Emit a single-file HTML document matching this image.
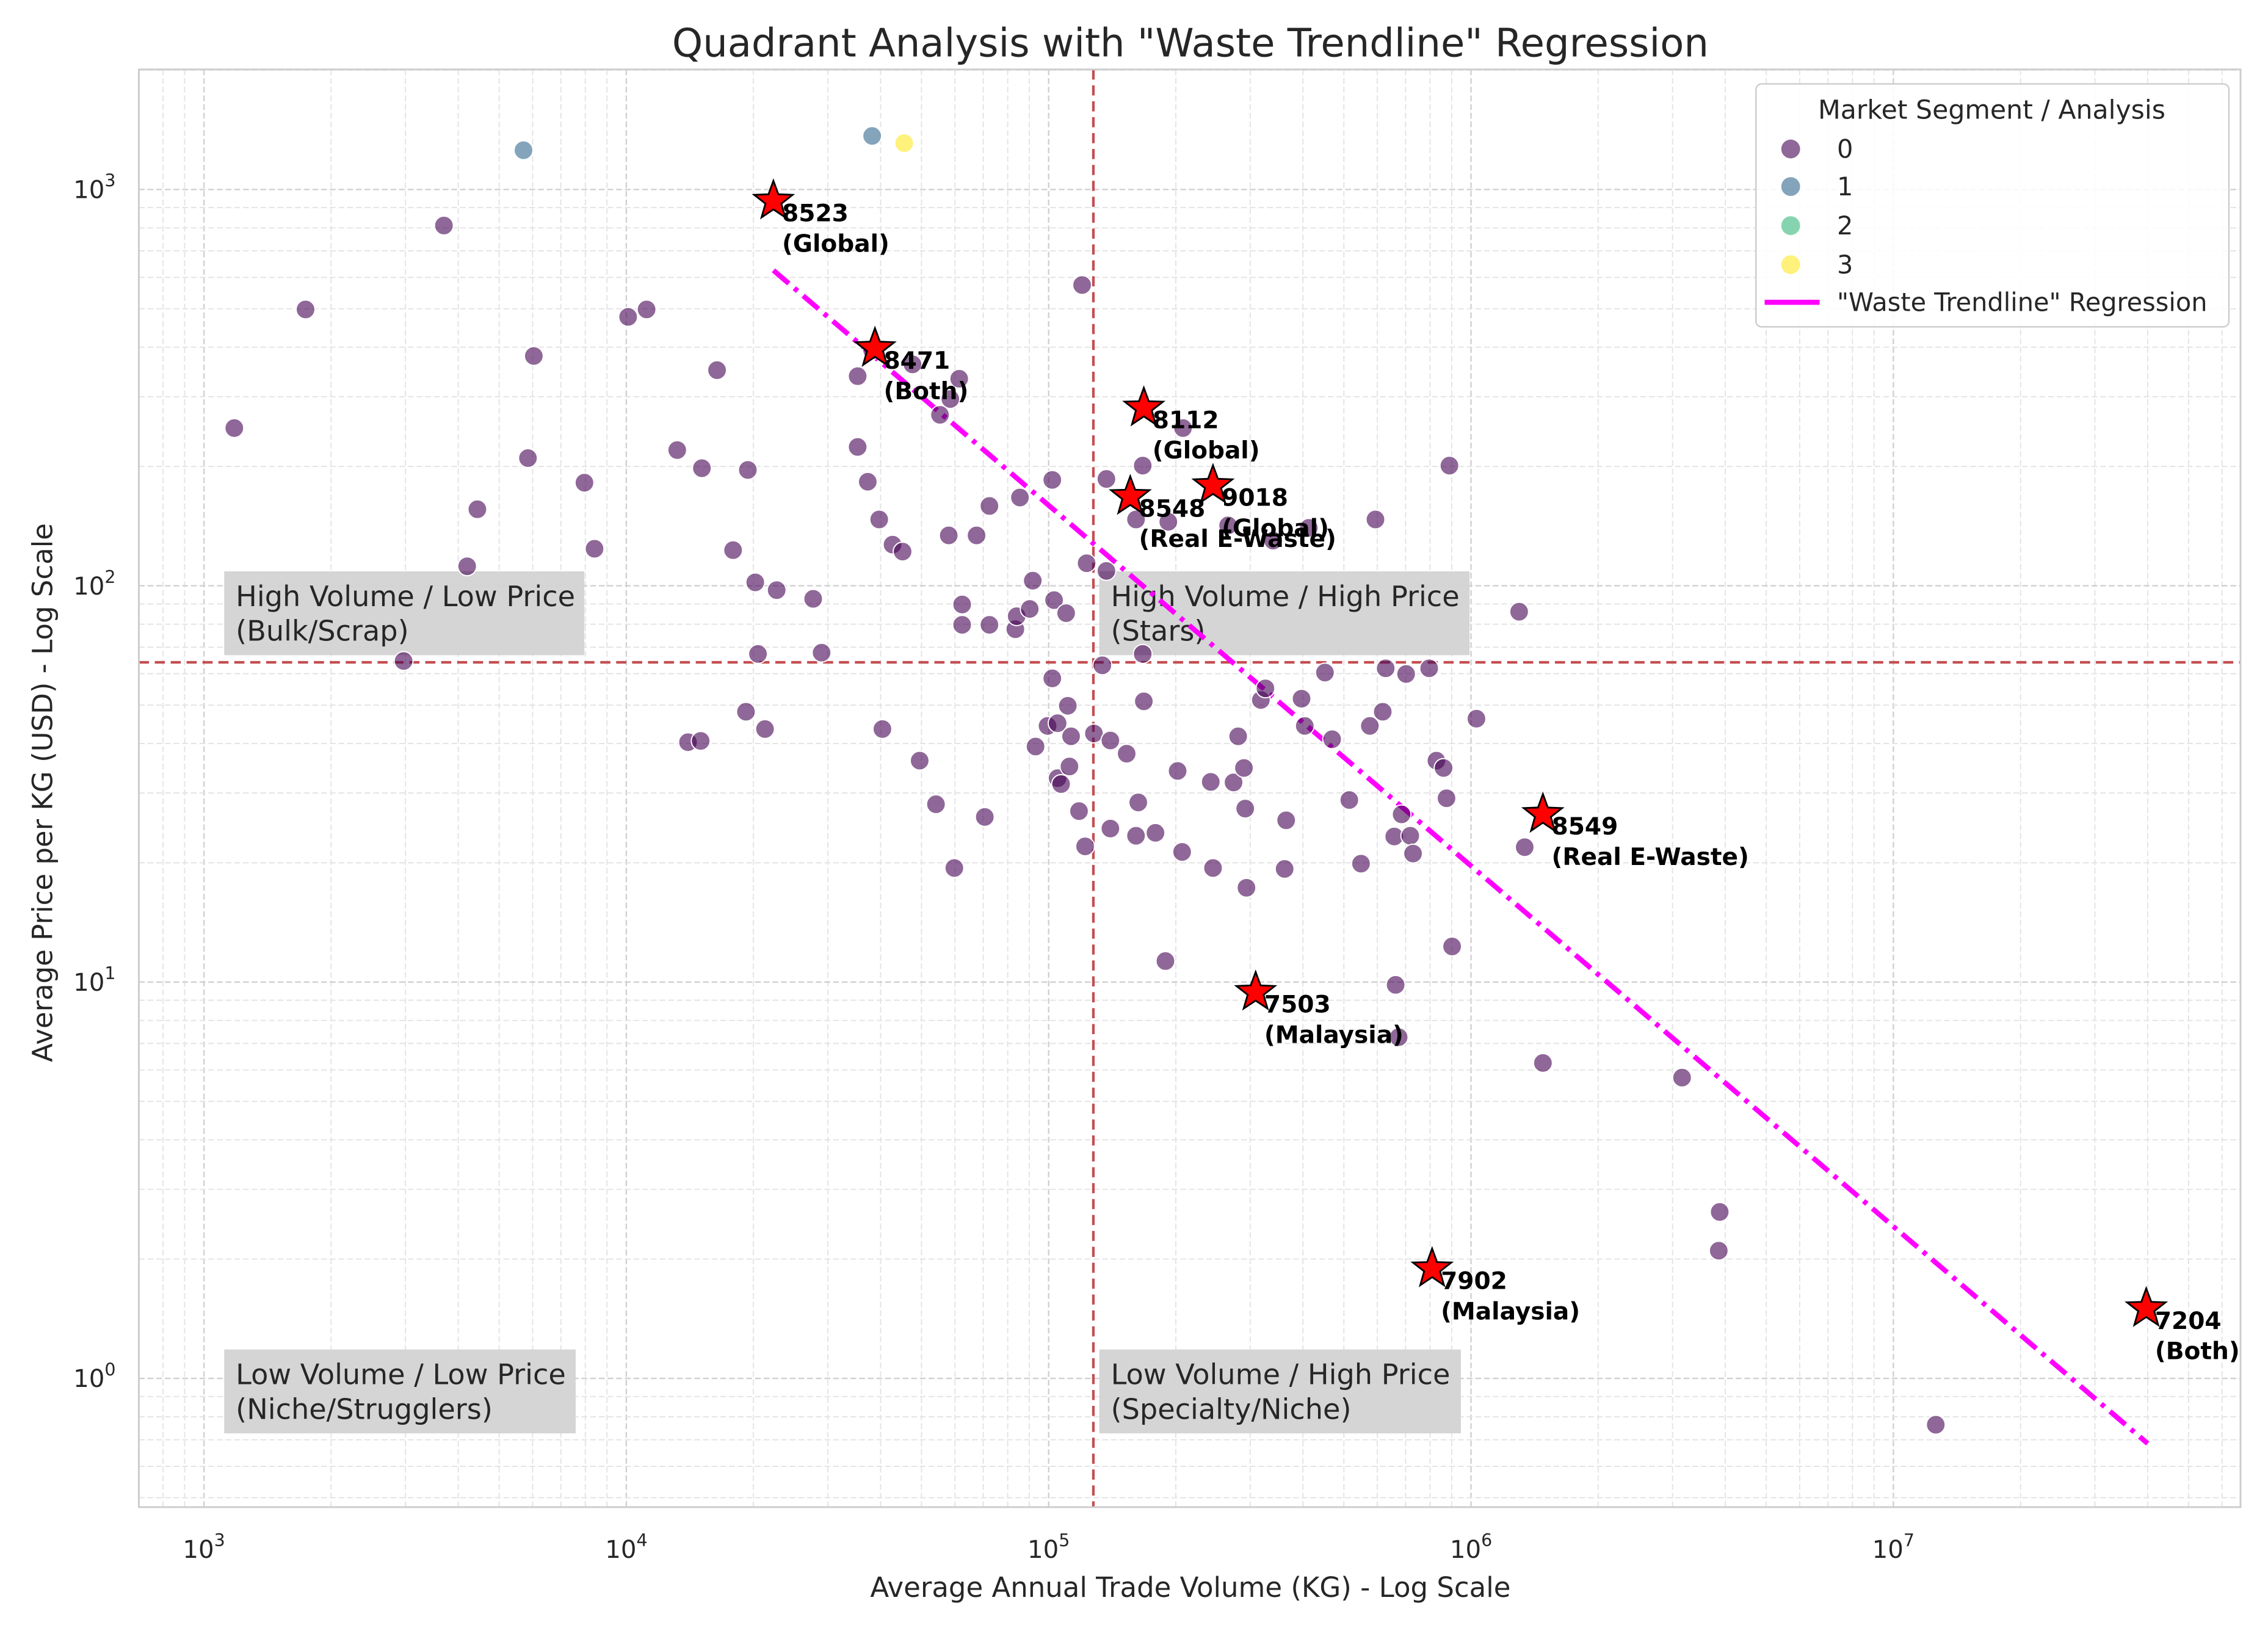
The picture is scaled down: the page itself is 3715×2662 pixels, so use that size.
<!DOCTYPE html>
<html><head><meta charset="utf-8"><style>
html,body{margin:0;padding:0;background:#fff;}
svg{display:block;font-family:"DejaVu Sans","Liberation Sans",sans-serif;}
</style></head><body>
<svg id="chart" width="3715" height="2662" viewBox="0 0 1568 1123.5" preserveAspectRatio="none" xmlns="http://www.w3.org/2000/svg">
<rect x="0" y="0" width="1568" height="1123.5" fill="#fff"/>
<text x="823" y="39" font-size="27" text-anchor="middle" fill="#262626">Quadrant Analysis with "Waste Trendline" Regression</text>
<g id="grid"></g>
<g id="quads"></g>
<g id="trend"></g>
<g id="points"></g>
<g id="stars"></g>
<rect x="96" y="48" width="1453" height="994" fill="none" stroke="#ccc" stroke-width="1.2"/>
<g id="ticks"></g>
<text x="823" y="1104" font-size="19" text-anchor="middle" fill="#262626">Average Annual Trade Volume (KG) - Log Scale</text>
<text transform="translate(36,548) rotate(-90)" font-size="19" text-anchor="middle" fill="#262626">Average Price per KG (USD) - Log Scale</text>
<g>
<rect x="1214" y="58" width="327" height="168" rx="4" fill="#fff" fill-opacity="0.85" stroke="#ccc"/>
<text x="1377" y="82" font-size="18" text-anchor="middle" fill="#262626">Market Segment / Analysis</text>
<g><circle cx="1238" cy="103" r="6.5" fill="#440154" fill-opacity="0.6"/><text x="1270" y="109" font-size="17.5" fill="#262626">0</text></g>
<g><circle cx="1238" cy="129" r="6.5" fill="#31688e" fill-opacity="0.6"/><text x="1270" y="135" font-size="17.5" fill="#262626">1</text></g>
<g><circle cx="1238" cy="156" r="6.5" fill="#35b779" fill-opacity="0.6"/><text x="1270" y="162" font-size="17.5" fill="#262626">2</text></g>
<g><circle cx="1238" cy="183" r="6.5" fill="#fde725" fill-opacity="0.6"/><text x="1270" y="189" font-size="17.5" fill="#262626">3</text></g>
<g><line x1="1220" y1="209" x2="1258" y2="209" stroke="#ff00ff" stroke-width="3.5"/><text x="1270" y="215" font-size="17.5" fill="#262626">"Waste Trendline" Regression</text></g>
</g>
</svg>
<script>
const volume0=[3700,1740,1180,10100,11170,6040,5850,7960,4440,4200,8410,13200,15100,16400,19400,17900,20200,22700,20500,2970,29000,27700,14000,15000,19200,21300,40400,49500,54100,59800,70600,35300,38200,47600,61400,55300,58500,35300,37300,39700,42700,45100,58000,67500,72400,85500,102000,62400,62400,72400,83400,84000,90200,91700,103000,110000,102000,111000,99400,93100,105000,113000,105000,107000,112000,118000,122000,128000,140000,153000,140000,163000,161000,179000,189000,207000,202000,168000,245000,281000,274000,290000,292000,242000,294000,318000,326000,365000,362000,397000,404000,451000,469000,515000,549000,576000,618000,628000,796000,658000,685000,718000,729000,702000,828000,861000,875000,902000,663000,674000,1030000,1300000,1340000,889000,594000,120000,137000,123000,161000,137000,167000,208000,266000,340000,413000,192000,1480000,3160000,3880000,3860000,12600000,167000,134000];
const price0=[811,498,250,477,498,380,210,182,156,112,124,220,198,350,196,123,102,97.5,67.3,64.6,67.8,92.7,40.3,40.6,48.1,43.5,43.5,36.2,28.1,19.4,26.1,338,393,362,333,270,296,224,183,147,127,122,134,134,159,167,185,89.7,79.7,79.7,77.7,83.8,87.4,103,92,85.3,58.4,49.8,44.3,39.3,45,41.7,32.7,31.6,35,27,22,42.4,40.7,37.7,24.4,28.4,23.4,23.8,11.3,21.3,34.1,51.1,19.4,41.7,31.9,34.7,27.4,32,17.3,51.5,55.1,25.6,19.3,51.9,44.3,60.4,41,28.8,19.9,44.3,48.1,61.9,61.9,23.3,26.5,23.4,21.1,59.9,36.2,34.7,29.1,12.3,9.84,7.26,46.2,86,21.9,201,147,574,109,114,147,186,201,250,142,130,140,145,6.25,5.74,2.63,2.10,0.764,67.3,63];
const volumeOther=[5710,38200,45500];
const priceOther=[1256,1365,1309];
const segmentOther=[1,1,3];
const starCodes=["8523","8471","8112","8548","9018","8549","7503","7902","7204"];
const starGroups=["(Global)","(Both)","(Global)","(Real E-Waste)","(Global)","(Real E-Waste)","(Malaysia)","(Malaysia)","(Both)"];
const starVolume=[22300,38800,168000,156000,245000,1480000,309000,809000,39700000];
const starPrice=[935,397,281,168,179,26.5,9.43,1.89,1.50];
const trendVolume=[22300,40000000];
const trendPrice=[625,0.685];
const quadVolume=127600;
const quadPrice=64.1;
const xTickExps=[3,4,5,6,7];
const yTickExps=[0,1,2,3];

const NS="http://www.w3.org/2000/svg";
const L=96,R=1549,T=48,B=1042;
function sx(v){return 141+(Math.log10(v)-3)*292;}
function sy(v){return 953-Math.log10(v)*274;}
function mk(tag,attrs,parent){const e=document.createElementNS(NS,tag);for(const k in attrs)e.setAttribute(k,attrs[k]);parent.appendChild(e);return e;}
const colors={0:"#440154",1:"#31688e",2:"#35b779",3:"#fde725"};

const grid=document.getElementById('grid');
for(let d=2;d<=7;d++){for(let m=1;m<10;m++){const v=m*Math.pow(10,d);const x=sx(v);if(x<L||x>R)continue;
 const ln=mk('line',{x1:x,x2:x,y1:T,y2:B,stroke:m===1?'#d0d0d0':'#e3e3e3','stroke-width':m===1?1:0.8,'stroke-dasharray':'4,2'},grid);
 
 }}
for(let d=-1;d<=3;d++){for(let m=1;m<10;m++){const v=m*Math.pow(10,d);const y=sy(v);if(y<T||y>B)continue;
 const ln=mk('line',{x1:L,x2:R,y1:y,y2:y,stroke:m===1?'#d0d0d0':'#e3e3e3','stroke-width':m===1?1:0.8,'stroke-dasharray':'4,2'},grid);
 
 }}

const ticks=document.getElementById('ticks');
xTickExps.forEach(e=>{const t=mk('text',{x:sx(Math.pow(10,e)),y:1077,'font-size':17,'text-anchor':'middle',fill:'#262626'},ticks);
 
 
 t.innerHTML='10<tspan dy="-8" font-size="12">'+e+'</tspan>';});
yTickExps.forEach(e=>{const t=mk('text',{x:80,y:sy(Math.pow(10,e))+6,'font-size':17,'text-anchor':'end',fill:'#262626'},ticks);
 
 
 t.innerHTML='10<tspan dy="-8" font-size="12">'+e+'</tspan>';});

const quads=document.getElementById('quads');
const vq=mk('line',{x1:sx(quadVolume),x2:sx(quadVolume),y1:T,y2:B,stroke:'#c44e52','stroke-width':1.8,'stroke-dasharray':'7,4'},quads);


const hq=mk('line',{x1:L,x2:R,y1:sy(quadPrice),y2:sy(quadPrice),stroke:'#c44e52','stroke-width':1.8,'stroke-dasharray':'7,4'},quads);


const boxes=[[155,395,249,"High Volume / Low Price","(Bulk/Scrap)","quadrant-label-bulk"],[760,395,256,"High Volume / High Price","(Stars)","quadrant-label-stars"],[155,933,243,"Low Volume / Low Price","(Niche/Strugglers)","quadrant-label-strugglers"],[760,933,250,"Low Volume / High Price","(Specialty/Niche)","quadrant-label-specialty"]];
boxes.forEach(b=>{const g=mk('g',{},quads);
 
 
 mk('rect',{x:b[0],y:b[1],width:b[2],height:58,fill:'#d3d3d3','fill-opacity':0.95},g);
 const t1=mk('text',{x:b[0]+8,y:b[1]+24,'font-size':19.5,fill:'#262626'},g);t1.textContent=b[3];
 const t2=mk('text',{x:b[0]+8,y:b[1]+48,'font-size':19.5,fill:'#262626'},g);t2.textContent=b[4];});

const pts=document.getElementById('points');
volume0.forEach((v,i)=>{const c=mk('circle',{cx:sx(v),cy:sy(price0[i]),r:6.5,fill:colors[0],'fill-opacity':0.6,stroke:'#fff','stroke-width':0.8},pts);
 
 });
volumeOther.forEach((v,i)=>{const c=mk('circle',{cx:sx(v),cy:sy(priceOther[i]),r:6.5,fill:colors[segmentOther[i]],'fill-opacity':0.6,stroke:'#fff','stroke-width':0.8},pts);
 
 });

const tr=document.getElementById('trend');
const tl=mk('line',{x1:sx(trendVolume[0]),y1:sy(trendPrice[0]),x2:sx(trendVolume[1]),y2:sy(trendPrice[1]),stroke:'#ff00ff','stroke-width':3.5,'stroke-dasharray':'14,5,3,5'},tr);



const st=document.getElementById('stars');
function starPath(cx,cy,ro,ri){let p='';for(let k=0;k<10;k++){const a=-Math.PI/2+k*Math.PI/5;const r=k%2?ri:ro;p+=(k?'L':'M')+(cx+r*Math.cos(a)).toFixed(1)+','+(cy+r*Math.sin(a)).toFixed(1);}return p+'Z';}
starCodes.forEach((code,i)=>{const x=sx(starVolume[i]),y=sy(starPrice[i]);const g=mk('g',{},st);
 
 
 mk('path',{d:starPath(x,y,14,5.8),fill:'#ff0000',stroke:'#000','stroke-width':1.2},g);
 const t1=mk('text',{x:x+6,y:y+14,'font-size':16.5,'font-weight':'bold',fill:'#000'},g);t1.textContent=code;
 const t2=mk('text',{x:x+6,y:y+35,'font-size':16.5,'font-weight':'bold',fill:'#000'},g);t2.textContent=starGroups[i];});
</script>
</body></html>
